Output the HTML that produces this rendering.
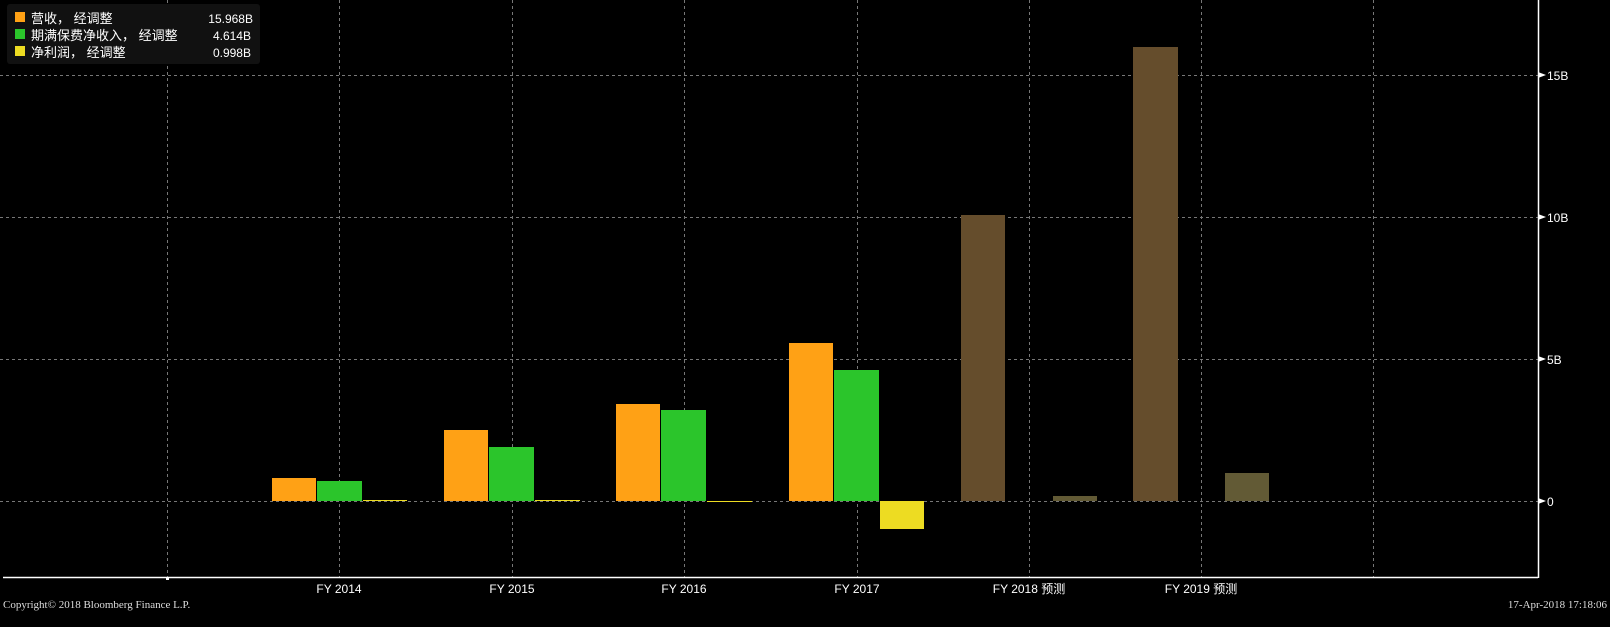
<!DOCTYPE html>
<html><head><meta charset="utf-8"><style>
body{margin:0;background:#000;width:1610px;height:627px;overflow:hidden;font-family:"Liberation Sans","Noto Sans CJK SC",sans-serif}
</style></head><body>
<svg width="1610" height="627" xmlns="http://www.w3.org/2000/svg" style="position:absolute;left:0;top:0">
<g stroke="#777" stroke-dasharray="3,3" stroke-width="1">
<line x1="167.5" y1="0" x2="167.5" y2="577"/>
<line x1="339.5" y1="0" x2="339.5" y2="577"/>
<line x1="512.5" y1="0" x2="512.5" y2="577"/>
<line x1="684.5" y1="0" x2="684.5" y2="577"/>
<line x1="857.5" y1="0" x2="857.5" y2="577"/>
<line x1="1029.5" y1="0" x2="1029.5" y2="577"/>
<line x1="1201.5" y1="0" x2="1201.5" y2="577"/>
<line x1="1373.5" y1="0" x2="1373.5" y2="577"/>
<line x1="0" y1="75.5" x2="1538" y2="75.5"/>
<line x1="0" y1="217.5" x2="1538" y2="217.5"/>
<line x1="0" y1="359.5" x2="1538" y2="359.5"/>
<line x1="0" y1="501.5" x2="1538" y2="501.5"/>
</g>
<rect x="272" y="478" width="44" height="23" fill="#FFA115"/>
<rect x="317" y="481" width="45" height="20" fill="#2BC52B"/>
<rect x="363" y="500" width="44" height="1" fill="#EDDC22"/>
<rect x="444" y="430" width="44" height="71" fill="#FFA115"/>
<rect x="489" y="447" width="45" height="54" fill="#2BC52B"/>
<rect x="535" y="500" width="45" height="1" fill="#EDDC22"/>
<rect x="616" y="404" width="44" height="97" fill="#FFA115"/>
<rect x="661" y="410" width="45" height="91" fill="#2BC52B"/>
<rect x="707" y="501" width="45" height="1" fill="#EDDC22"/>
<rect x="789" y="343" width="44" height="158" fill="#FFA115"/>
<rect x="834" y="370" width="45" height="131" fill="#2BC52B"/>
<rect x="880" y="501" width="44" height="28" fill="#EDDC22"/>
<rect x="961" y="215" width="44" height="286" fill="#654D2C"/>
<rect x="1053" y="496" width="44" height="5" fill="#625A35"/>
<rect x="1133" y="47" width="45" height="454" fill="#654D2C"/>
<rect x="1225" y="473" width="44" height="28" fill="#625A35"/>
<line x1="3" y1="577.5" x2="1538" y2="577.5" stroke="#fff" stroke-width="1.5"/>
<line x1="1538.5" y1="0" x2="1538.5" y2="578" stroke="#fff" stroke-width="1.5"/>
<rect x="166" y="577" width="3" height="3" fill="#fff"/>
<g fill="#fff"><polygon points="1538,72 1546,75 1538,78"/><polygon points="1538,214 1546,217 1538,220"/><polygon points="1538,356 1546,359 1538,362"/><polygon points="1538,498 1546,501 1538,504"/></g>
<g fill="#fff" font-size="12" font-family="Liberation Sans,sans-serif">
<text x="1547" y="80">15B</text><text x="1547" y="222">10B</text><text x="1547" y="364">5B</text><text x="1547" y="506">0</text>
</g>
<g fill="#fff" font-size="12" text-anchor="middle" font-family="Liberation Sans,'Noto Sans CJK SC',sans-serif">
<text x="339" y="593">FY 2014</text><text x="512" y="593">FY 2015</text><text x="684" y="593">FY 2016</text><text x="857" y="593">FY 2017</text><text x="1029" y="593">FY 2018 预测</text><text x="1201" y="593">FY 2019 预测</text>
</g>
<g fill="#ddd" font-size="11" font-family="Liberation Serif,serif">
<text x="3" y="608">Copyright© 2018 Bloomberg Finance L.P.</text>
<text x="1607" y="608" text-anchor="end">17-Apr-2018 17:18:06</text>
</g>
<rect x="7" y="4" width="253" height="60" rx="3" fill="#111"/>
<rect x="15" y="12" width="10" height="10" fill="#FFA115"/>
<rect x="15" y="29" width="10" height="10" fill="#2BC52B"/>
<rect x="15" y="46" width="10" height="10" fill="#EDDC22"/>
<g fill="#fff" font-size="13" font-family="Liberation Sans,'Noto Sans CJK SC',sans-serif">
<text x="31" y="23">营收， 经调整</text>
<text x="31" y="40">期满保费净收入， 经调整</text>
<text x="31" y="57">净利润， 经调整</text>
<text x="253" y="23" text-anchor="end" font-size="12">15.968B</text>
<text x="251" y="40" text-anchor="end" font-size="12">4.614B</text>
<text x="251" y="57" text-anchor="end" font-size="12">0.998B</text>
</g>
</svg>
</body></html>
